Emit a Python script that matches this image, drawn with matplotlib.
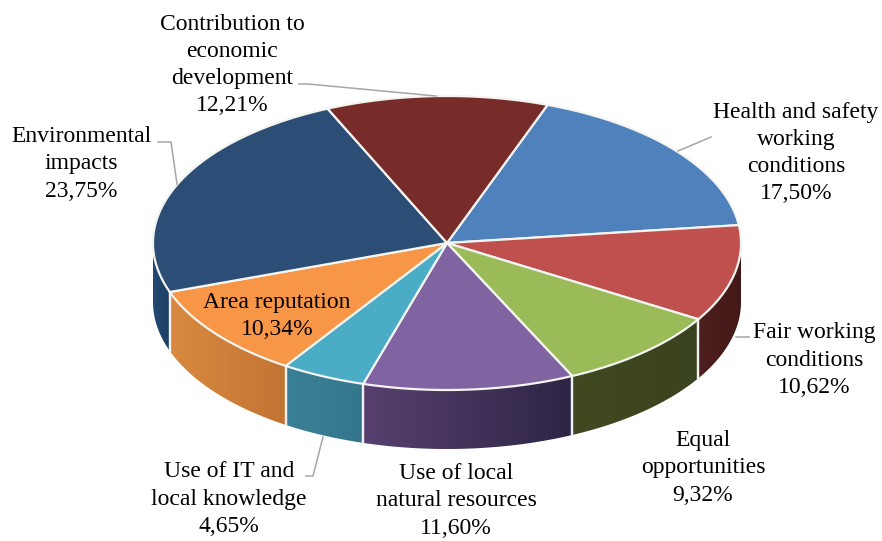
import numpy as np
import matplotlib
matplotlib.use('Agg')
import matplotlib.pyplot as plt
from matplotlib.patches import Polygon
from matplotlib.colors import LinearSegmentedColormap

plt.rcParams['font.family'] = ['Liberation Serif', 'DejaVu Serif']

####data
names = ['Health and safety\nworking\nconditions', 'Fair working\nconditions', 'Equal\nopportunities',
         'Use of local\nnatural resources', 'Use of IT and\nlocal knowledge', 'Area reputation',
         'Environmental\nimpacts', 'Contribution to\neconomic\ndevelopment']
values = [17.50, 10.62, 9.32, 11.60, 4.65, 10.34, 23.75, 12.21]
top_colors = ['#4F81BD', '#C0504D', '#9BBB59', '#8064A2', '#4BACC6', '#F79646', '#2C4D75', '#772C2A']
side_left = ['#3A5F8C', '#4E1F1E', '#41491F', '#57406F', '#3A8096', '#D98A40', '#234A74', '#5A2020']
side_right = ['#3A5F8C', '#431918', '#3A431F', '#2E2545', '#34778C', '#C27433', '#1E3F63', '#5A2020']
label_xy = [(796, 153), (814, 360), (703, 468), (456, 501), (229, 499), (277, 316), (81, 164), (232, 65)]
leaders = [[(711, 137), (678, 151)], [(749, 337), (736, 337)], None, None,
           [(306, 476), (313, 476), (323, 437)], None,
           [(158, 142), (171, 142), (177, 184)], [(299, 84), (308, 84), (436, 96)]]

cx, cy = 447, 243
rx, ry = 294, 147
depth = 59
start = 20.0


def rim(a):
    # a = degrees clockwise from north
    a = np.radians(a)
    return cx + rx * np.sin(a), cy - ry * np.cos(a)


fig = plt.figure(figsize=(8.82, 5.41), dpi=100)
ax = fig.add_axes([0, 0, 1, 1])
ax.set_xlim(0, 882)
ax.set_ylim(541, 0)
ax.axis('off')

angles = start + np.concatenate([[0], np.cumsum(values)]) / np.sum(values) * 360

# sides first
for i in range(len(values)):
    a0, a1 = angles[i], angles[i + 1]
    a0v, a1v = max(a0, 90), min(a1, 270)
    if a1v <= a0v:
        continue
    t = np.linspace(a0v, a1v, 80)
    x, y = rim(t)
    pts = np.vstack([np.column_stack([x, y]), np.column_stack([x[::-1], y[::-1] + depth])])
    poly = Polygon(pts, closed=True, facecolor='none', edgecolor='none')
    ax.add_patch(poly)
    cmap = LinearSegmentedColormap.from_list('s', [side_left[i], side_right[i]])
    im = ax.imshow(np.linspace(0, 1, 100).reshape(1, -1), cmap=cmap, aspect='auto',
                   extent=[x.min(), x.max(), y.max() + depth, y.min()], zorder=2)
    im.set_clip_path(poly)
    # white seam on the visible edges between side walls
    if a0 >= 90:
        ax.plot([x[0], x[0]], [y[0], y[0] + depth], color='#F2F2F2', lw=1.6, zorder=4)
    if a1 <= 270:
        ax.plot([x[-1], x[-1]], [y[-1], y[-1] + depth], color='#F2F2F2', lw=1.6, zorder=4)

ax.set_xlim(0, 882)
ax.set_ylim(541, 0)

# top of the pie
for i in range(len(values)):
    t = np.linspace(angles[i], angles[i + 1], 120)
    x, y = rim(t)
    pts = np.vstack([[cx, cy], np.column_stack([x, y])])
    ax.add_patch(Polygon(pts, closed=True, facecolor=top_colors[i], edgecolor='#F4F4F0',
                         lw=1.6, joinstyle='round', zorder=5))

for i in range(len(names)):
    txt = names[i] + '\n' + ('%.2f' % values[i]).replace('.', ',') + '%'
    ax.text(label_xy[i][0], label_xy[i][1], txt, ha='center', va='center', fontsize=17,
            linespacing=1.38, color='black', zorder=7)
    if leaders[i] is not None:
        xs = [p[0] for p in leaders[i]]
        ys = [p[1] for p in leaders[i]]
        ax.plot(xs, ys, color='#A6A6A6', lw=1.1, zorder=6)

fig.savefig('out.png', dpi=100)
